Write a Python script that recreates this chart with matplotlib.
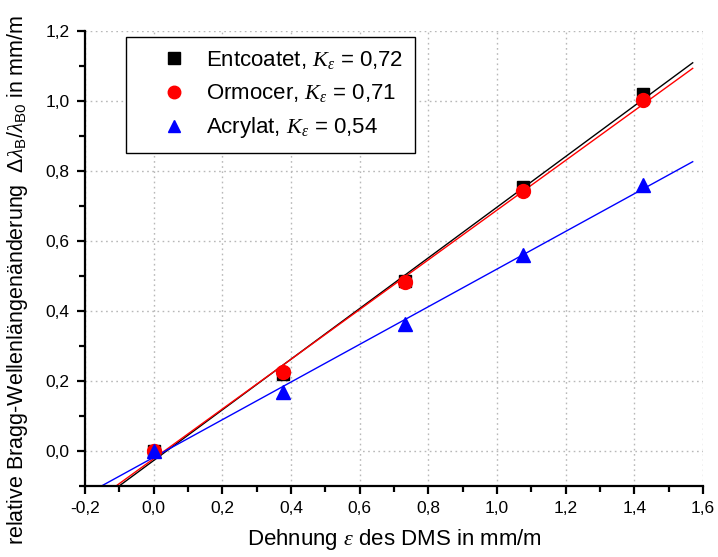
import numpy as np
import matplotlib
matplotlib.use("Agg")
import matplotlib.pyplot as plt
from matplotlib.ticker import MultipleLocator, FuncFormatter

plt.rcParams['font.family'] = ['Liberation Sans', 'DejaVu Sans']
plt.rcParams['mathtext.fontset'] = 'custom'
plt.rcParams['mathtext.rm'] = 'Liberation Sans'
plt.rcParams['mathtext.sf'] = 'Liberation Sans'
plt.rcParams['mathtext.it'] = 'Liberation Serif:italic'

# data
strain = [0.0, 0.378, 0.733, 1.077, 1.426]
entcoatet = [0.0, 0.22, 0.485, 0.755, 1.018]
ormocer = [0.0, 0.226, 0.483, 0.743, 1.003]
acrylat = [0.0, 0.169, 0.363, 0.56, 0.76]
labels = [r"Entcoatet, $K_{\varepsilon}$ = 0,72",
          r"Ormocer, $K_{\varepsilon}$ = 0,71",
          r"Acrylat, $K_{\varepsilon}$ = 0,54"]
fit_range = (-0.15, 1.57)

series = [
    (entcoatet, 'black', 's', 9),
    (ormocer, 'red', 'o', 10),
    (acrylat, 'blue', '^', 10),
]

fig = plt.figure(figsize=(7.18, 5.57), dpi=100)
ax = fig.add_axes([85/718, 1-486/557, (703-85)/718, (486-30.7)/557])

xf = np.linspace(fit_range[0], fit_range[1], 50)
handles = []
for ys, c, m, ms in series:
    coef = np.polyfit(strain, ys, 1)
    ax.plot(xf, np.polyval(coef, xf), color=c, lw=1.0, zorder=2)
for ys, c, m, ms in series:
    h, = ax.plot(strain, ys, linestyle='none', marker=m, color=c, ms=ms, zorder=3)
    handles.append(h)

ax.set_xlim(-0.2, 1.6)
ax.set_ylim(-0.1, 1.2)
ax.xaxis.set_major_locator(MultipleLocator(0.2))
ax.xaxis.set_minor_locator(MultipleLocator(0.1))
ax.yaxis.set_major_locator(MultipleLocator(0.2))
ax.yaxis.set_minor_locator(MultipleLocator(0.1))
fmt = FuncFormatter(lambda v, p: f"{v:.1f}".replace('.', ',').replace('-0,0', '0,0'))
ax.xaxis.set_major_formatter(fmt)
ax.yaxis.set_major_formatter(fmt)

ax.grid(True, which='major', color='#b8b8b8', linestyle=(0, (1.2, 2.5)), lw=1.0)
ax.set_axisbelow(True)
for s in ['top', 'right']:
    ax.spines[s].set_visible(False)
for s in ['left', 'bottom']:
    ax.spines[s].set_linewidth(1.6)
ax.tick_params(which='major', direction='out', length=6, width=1.6, labelsize=12.5, pad=5)
ax.tick_params(which='minor', direction='out', length=4, width=1.6)

ax.set_xlabel(r"Dehnung $\varepsilon$ des DMS in mm/m", fontsize=16, labelpad=8)
fig.text(18/718, 1-280/557,
         r"relative Bragg-Wellenlängenänderung  $\Delta\lambda_{\mathsf{B}}/\lambda_{\mathsf{B0}}$ in mm/m",
         fontsize=15.5, rotation=90, ha='center', va='center')

leg = ax.legend(handles, labels, loc='upper left', bbox_to_anchor=(126/718, 1-37/557),
                bbox_transform=fig.transFigure, fontsize=16, frameon=True, fancybox=False,
                edgecolor='black', framealpha=1, handlelength=3.2, handletextpad=-0.15,
                borderpad=0.55, labelspacing=0.5, borderaxespad=0, numpoints=1,
                markerscale=0.9)
leg.get_frame().set_linewidth(1.0)
leg.set_zorder(5)

fig.savefig("out.png", dpi=100)
